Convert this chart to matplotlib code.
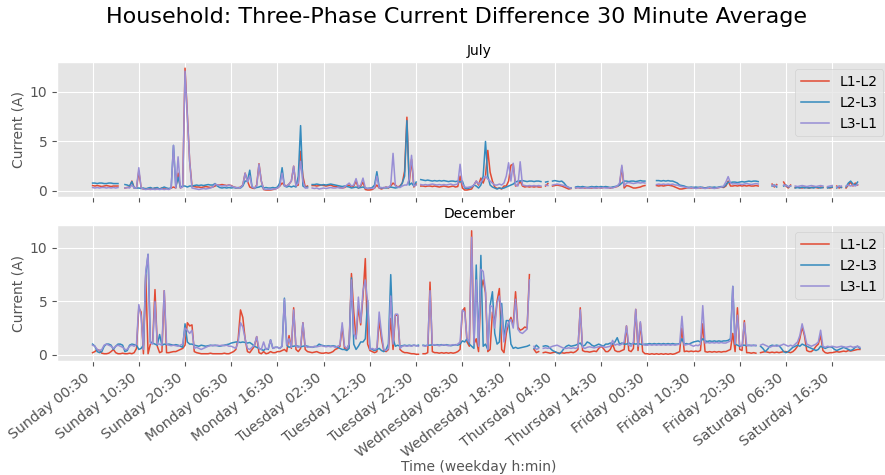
import numpy as np
import matplotlib
matplotlib.use("Agg")
from matplotlib import pyplot as plt

N = np.nan

# half-hour slots, Sunday 00:30 = 0
series_names = ['L1-L2', 'L2-L3', 'L3-L1']
xtick_labels = ['Sunday 00:30', 'Sunday 10:30', 'Sunday 20:30', 'Monday 06:30',
                'Monday 16:30', 'Tuesday 02:30', 'Tuesday 12:30', 'Tuesday 22:30',
                'Wednesday 08:30', 'Wednesday 18:30', 'Thursday 04:30',
                'Thursday 14:30', 'Friday 00:30', 'Friday 10:30', 'Friday 20:30',
                'Saturday 06:30', 'Saturday 16:30']

july_l1_l2 = [
    0.55, 0.5, 0.55, 0.5, 0.45, 0.5, 0.55, 0.5, 0.45, 0.5, 0.5, 0.5, N, N, 0.3, 0.35, 0.4, 1.0, 0.3, 0.3,
    2.0, 0.3, 0.2, 0.25, 0.2, 0.3, 0.2, 0.3, 0.25, 0.2, 0.3, 0.2, 0.25, 0.2, 0.3, 0.4, 0.3, 1.8, 0.3, 0.5,
    12.4, 7.8, 3.0, 0.5, 0.45, 0.4, 0.4, 0.35, 0.4, 0.45, 0.4, 0.35, 0.4, 0.5, 0.6, 0.6, 0.65, 0.6, 0.55, 0.6,
    0.55, 0.4, 0.35, 0.3, 0.4, 0.6, 1.8, 1.0, 0.4, 0.3, 0.25, 0.6, 2.75, 1.0, 0.15, 0.1, 0.1, 0.1, 0.15, 0.2,
    0.3, 0.5, 0.8, 0.6, 0.5, 0.7, 1.0, 2.5, 0.5, 0.6, 4.0, 1.5, 0.4, 0.5, N, 0.55, 0.55, 0.5, 0.55, 0.6,
    0.55, 0.5, 0.55, 0.6, 0.5, 0.45, 0.4, 0.35, 0.3, 0.35, 0.5, 0.6, 0.4, 0.5, 1.0, 0.3, 0.5, 0.9, 0.15, 0.1,
    0.1, 0.15, 0.3, 0.6, 0.3, 0.2, 0.3, 0.4, 0.3, 0.5, 0.8, 0.6, 0.4, 0.5, 0.8, 2.0, 7.45, 0.8, 3.2, 0.4,
    0.7, N, 0.5, 0.5, 0.45, 0.5, 0.5, 0.45, 0.5, 0.45, 0.4, 0.45, 0.5, 0.45, 0.4, 0.45, 0.5, 0.4, 0.45, 1.5,
    0.3, 0.1, 0.1, 0.15, 0.2, 0.6, 1.0, 0.6, 1.3, 0.8, 1.5, 4.1, 1.9, 1.0, 0.4, 0.25, 0.3, 0.2, 0.5, 0.5,
    1.0, 2.6, 2.7, 0.5, 0.6, 1.0, 0.5, 0.4, 0.45, 0.4, 0.45, 0.4, 0.45, 0.4, 0.4, N, 0.5, 0.75, N, 0.5,
    0.55, 0.6, 0.55, 0.5, 0.4, 0.3, 0.2, 0.25, N, 0.3, 0.35, 0.3, 0.35, 0.3, 0.35, 0.3, 0.3, 0.35, 0.3, 0.35,
    0.3, 0.35, 0.4, 0.35, 0.3, 0.35, 0.4, 0.45, 0.6, 2.4, 0.3, 0.55, 0.5, 0.4, 0.3, 0.3, 0.35, 0.4, 0.5, 0.55,
    N, N, N, N, 0.55, 0.5, 0.55, 0.5, 0.55, 0.6, 0.55, 0.5, 0.4, 0.3, 0.2, 0.2, 0.25, 0.3, 0.35, 0.3,
    0.35, 0.3, 0.35, 0.3, 0.35, 0.3, 0.35, 0.3, 0.35, 0.3, 0.3, 0.35, 0.4, 0.35, 0.5, 1.0, 0.5, 0.5, 0.55, 0.5,
    0.55, 0.5, 0.55, 0.5, 0.55, 0.5, 0.5, 0.55, 0.5, N, N, N, N, N, 0.7, 0.4, 0.65, N, N, 0.9,
    0.5, 0.3, 0.6, N, 0.35, 0.4, 0.35, 0.3, 0.4, 0.35, 0.3, 0.35, 0.4, 0.35, 0.3, 0.4, 0.35, N, 0.4, 0.3,
    0.35, N, 0.5, 0.3, 0.4, N, 0.3, 0.6, 0.9, 0.5, 0.8, 0.6, N,
]
july_l2_l3 = [
    0.8, 0.8, 0.75, 0.8, 0.8, 0.75, 0.75, 0.8, 0.8, 0.75, 0.75, 0.75, N, N, 0.65, 0.6, 0.5, 0.95, 0.3, 0.3,
    0.3, 0.25, 0.3, 0.2, 0.3, 0.35, 0.25, 0.3, 0.35, 0.2, 0.3, 0.4, 0.3, 0.25, 0.3, 4.6, 0.4, 1.4, 0.4, 0.5,
    0.5, 0.4, 0.5, 0.5, 0.55, 0.6, 0.55, 0.6, 0.55, 0.6, 0.65, 0.6, 0.6, 0.75, 0.5, 0.35, 0.3, 0.35, 0.3, 0.35,
    0.3, 0.35, 0.3, 0.35, 0.3, 0.5, 1.0, 1.0, 2.1, 0.4, 0.3, 0.35, 0.4, 0.5, 0.3, 0.35, 0.3, 0.3, 0.35, 0.3,
    0.4, 0.8, 2.35, 0.5, 0.4, 0.5, 0.4, 0.5, 0.4, 1.5, 6.6, 0.5, 0.35, 0.4, N, 0.65, 0.65, 0.7, 0.65, 0.6,
    0.65, 0.6, 0.65, 0.7, 0.65, 0.6, 0.55, 0.5, 0.45, 0.5, 0.45, 0.4, 0.3, 0.35, 0.4, 0.3, 0.35, 0.4, 0.3, 0.25,
    0.3, 0.35, 0.6, 1.95, 0.4, 0.3, 0.35, 0.3, 0.35, 0.4, 0.35, 0.3, 0.35, 0.4, 0.8, 1.5, 7.1, 0.6, 0.8, 0.5,
    0.9, N, 1.15, 1.1, 1.05, 1.1, 1.05, 1.0, 1.05, 1.0, 1.05, 1.0, 1.05, 1.0, 0.95, 1.0, 1.0, 0.95, 1.0, 0.9,
    1.0, 0.3, 0.25, 0.3, 0.4, 0.6, 0.5, 0.3, 0.6, 1.5, 5.0, 1.5, 0.6, 0.4, 0.3, 0.2, 0.3, 0.25, 0.3, 0.4,
    0.5, 0.6, 0.7, 0.9, 1.0, 1.0, 1.05, 1.0, 0.95, 1.0, 1.0, 0.95, 1.0, 1.0, 0.95, N, 0.9, 0.95, N, 1.0,
    1.05, 1.0, 0.95, 1.0, 0.8, 0.5, 0.35, 0.3, N, 0.4, 0.45, 0.4, 0.45, 0.4, 0.35, 0.4, 0.45, 0.4, 0.45, 0.4,
    0.45, 0.4, 0.45, 0.4, 0.35, 0.4, 0.45, 0.5, 0.6, 0.8, 1.0, 1.0, 0.95, 1.0, 1.0, 0.95, 1.0, 1.05, 1.0, 1.0,
    N, N, N, N, 1.05, 1.05, 1.0, 1.05, 1.0, 1.05, 1.0, 1.0, 0.9, 0.8, 0.6, 0.55, 0.5, 0.4, 0.35, 0.4,
    0.35, 0.4, 0.35, 0.4, 0.35, 0.3, 0.35, 0.4, 0.35, 0.4, 0.35, 0.4, 0.45, 0.4, 0.6, 0.9, 0.85, 0.9, 0.9, 0.85,
    0.9, 0.95, 0.9, 0.95, 1.0, 0.95, 1.0, 1.0, 0.95, N, N, N, N, N, 0.5, 0.6, 0.4, N, N, 0.5,
    0.6, 0.4, 0.5, N, 0.3, 0.35, 0.3, 0.4, 0.3, 0.35, 0.3, 0.35, 0.3, 0.4, 0.35, 0.3, 0.35, N, 0.3, 0.35,
    0.4, N, 0.3, 0.5, 0.35, N, 0.4, 0.8, 1.0, 0.7, 0.6, 0.9, N,
]
july_l3_l1 = [
    0.35, 0.3, 0.35, 0.3, 0.35, 0.35, 0.3, 0.35, 0.3, 0.35, 0.3, 0.35, N, N, 0.3, 0.35, 0.3, 0.6, 0.3, 0.3,
    2.35, 0.3, 0.2, 0.15, 0.2, 0.15, 0.2, 0.15, 0.2, 0.15, 0.2, 0.15, 0.2, 0.15, 0.3, 4.6, 0.3, 3.45, 0.3, 0.4,
    12.1, 7.5, 3.0, 0.3, 0.25, 0.2, 0.15, 0.2, 0.25, 0.2, 0.25, 0.3, 0.4, 0.7, 0.6, 0.55, 0.5, 0.55, 0.5, 0.6,
    0.5, 0.4, 0.35, 0.3, 0.35, 0.6, 1.8, 0.9, 1.5, 0.4, 0.3, 0.5, 2.7, 1.0, 0.2, 0.15, 0.2, 0.15, 0.2, 0.2,
    0.3, 0.5, 1.8, 0.5, 0.5, 0.7, 1.0, 2.5, 0.5, 0.8, 3.0, 1.0, 0.3, 0.3, N, 0.3, 0.25, 0.3, 0.2, 0.25,
    0.3, 0.25, 0.3, 0.35, 0.3, 0.3, 0.35, 0.3, 0.3, 0.4, 0.6, 0.8, 0.5, 0.6, 1.25, 0.4, 0.6, 1.3, 0.3, 0.25,
    0.3, 0.25, 0.3, 1.5, 0.3, 0.35, 0.3, 0.4, 0.35, 0.6, 3.8, 0.5, 0.4, 0.35, 0.5, 0.6, 0.6, 1.2, 3.6, 0.5,
    0.6, N, 0.65, 0.6, 0.65, 0.6, 0.65, 0.7, 0.65, 0.6, 0.65, 0.6, 0.65, 0.6, 0.65, 0.7, 0.6, 0.65, 0.7, 2.7,
    0.7, 0.4, 0.35, 0.4, 0.45, 0.6, 1.0, 0.7, 0.9, 1.2, 1.5, 1.2, 1.0, 0.8, 0.6, 0.6, 0.7, 0.6, 0.8, 1.5,
    2.85, 1.0, 2.8, 0.6, 0.5, 2.95, 0.6, 0.55, 0.5, 0.55, 0.5, 0.55, 0.5, 0.55, 0.5, N, 0.6, 0.55, N, 0.6,
    0.65, 0.7, 0.65, 0.6, 0.55, 0.45, 0.35, 0.3, N, 0.3, 0.35, 0.3, 0.3, 0.35, 0.3, 0.3, 0.35, 0.3, 0.3, 0.35,
    0.3, 0.35, 0.3, 0.3, 0.35, 0.3, 0.4, 0.5, 0.8, 2.6, 0.5, 0.8, 0.85, 0.8, 0.75, 0.8, 0.85, 0.8, 0.85, 0.8,
    N, N, N, N, 0.65, 0.7, 0.65, 0.7, 0.65, 0.7, 0.65, 0.7, 0.6, 0.6, 0.5, 0.45, 0.4, 0.35, 0.3, 0.35,
    0.3, 0.25, 0.3, 0.35, 0.3, 0.25, 0.3, 0.35, 0.3, 0.25, 0.3, 0.35, 0.4, 0.5, 0.9, 1.45, 0.8, 0.7, 0.75, 0.7,
    0.7, 0.65, 0.7, 0.75, 0.7, 0.65, 0.7, 0.75, 0.7, N, N, N, N, N, 0.6, 0.5, 0.55, N, N, 0.6,
    0.55, 0.45, 0.5, N, 0.5, 0.45, 0.5, 0.55, 0.5, 0.45, 0.5, 0.55, 0.5, 0.45, 0.5, 0.55, 0.5, N, 0.45, 0.5,
    0.55, N, 0.4, 0.45, 0.5, N, 0.5, 0.6, 0.5, 0.6, 0.5, 0.65, N,
]

dec_l1_l2 = [
    0.2, 0.3, 0.5, 0.4, 0.15, 0.1, 0.1, 0.15, 0.3, 0.5, 0.2, 0.1, 0.1, 0.15, 0.1, 0.1, 0.15, 0.1, 0.2, 0.6,
    4.4, 4.0, 0.1, 7.5, 0.1, 1.0, 1.2, 6.1, 0.8, 0.2, 0.3, 6.0, 0.2, 0.2, 0.25, 0.3, 0.3, 0.4, 0.5, 0.6,
    0.9, 3.0, 2.7, 2.8, 0.3, 0.2, 0.15, 0.1, 0.1, 0.1, 0.1, 0.15, 0.1, 0.1, 0.1, 0.1, 0.1, 0.15, 0.1, 0.1,
    0.2, 0.3, 0.5, 1.5, 4.2, 3.5, 1.5, 0.3, 0.2, 0.5, 0.8, 1.7, 0.2, 0.1, 0.3, 0.1, 0.15, 0.3, 0.2, 0.2,
    0.3, 0.3, 0.4, 0.5, 0.3, 1.8, 0.6, 4.4, 0.5, 0.3, 0.6, 3.0, 0.5, 0.3, 0.25, 0.2, 0.25, 0.3, 0.2, 0.15,
    0.15, 0.2, 0.15, 0.2, 0.3, 0.5, 0.6, 0.8, 2.6, 0.6, 0.5, 1.0, 7.6, 4.0, 1.5, 4.5, 2.8, 5.5, 9.0, 1.0,
    0.4, 0.3, 0.2, 0.3, 3.3, 1.5, 0.4, 0.3, 0.5, 3.4, 0.5, 3.7, 3.7, 0.5, 0.3, 0.2, 0.2, 0.15, 0.1, 0.1,
    0.05, 0.05, N, 0.1, 0.1, 0.2, 6.8, 0.3, 0.2, 0.2, 0.15, 0.2, 0.15, 0.2, 0.15, 0.2, 0.15, 0.2, 0.3, 0.5,
    4.1, 4.4, 1.2, 0.8, 11.6, 1.0, 1.5, 0.3, 6.0, 7.0, 5.8, 0.3, 0.5, 4.0, 3.0, 5.0, 6.2, 0.5, 0.2, 2.0,
    3.0, 3.5, 2.8, 5.9, 2.6, 2.3, 2.4, 2.6, 2.5, 7.5, N, 0.5, 0.2, 0.3, N, 0.2, 0.25, 0.2, 0.15, 0.2,
    0.25, 0.2, 0.15, 0.2, 0.15, 0.2, 0.2, 0.25, 0.2, 0.3, 0.5, 4.4, 0.4, 0.3, 0.3, 0.25, 0.3, 0.35, 0.3, 0.6,
    0.8, 0.6, 0.3, 0.3, 0.5, 1.0, 0.4, 0.3, 0.3, 0.4, 0.5, 2.7, 0.4, 0.3, 0.6, 4.25, 0.4, 3.0, 0.3, 0.1,
    0.1, 0.05, 0.1, 0.05, 0.1, 0.05, 0.1, 0.05, 0.1, 0.05, 0.1, 0.05, 0.1, 0.2, 0.3, 2.5, 0.3, 0.35, 0.3, 0.35,
    0.3, 0.35, 0.3, 0.4, 2.9, 0.3, 0.25, 0.3, 0.25, 0.3, 0.25, 0.3, 0.25, 0.3, 0.3, 0.4, 0.5, 2.0, 0.3, 4.4,
    0.5, 0.4, 3.2, 0.2, 0.2, 0.15, 0.2, 0.15, N, 0.2, 0.25, 0.3, 0.25, 0.2, 0.25, 0.2, 0.25, 0.2, 0.25, 0.3,
    0.3, 0.25, 0.2, 0.3, 0.5, 0.8, 1.5, 2.6, 1.8, 0.4, 0.3, 0.3, 0.5, 0.8, 1.0, 1.8, 0.4, 0.2, 0.15, 0.2,
    0.2, 0.25, 0.3, 0.25, 0.3, 0.35, 0.3, 0.4, 0.35, 0.4, 0.45, 0.5, 0.5,
]
dec_l2_l3 = [
    1.0, 0.8, 0.3, 0.2, 0.3, 0.8, 1.0, 1.0, 0.9, 0.5, 0.8, 1.0, 1.0, 0.9, 0.3, 0.4, 0.9, 1.0, 0.95, 0.9,
    0.5, 0.6, 0.9, 7.5, 9.4, 1.2, 1.1, 1.0, 0.9, 1.9, 0.9, 1.0, 0.95, 1.0, 0.95, 0.9, 0.95, 0.9, 0.8, 0.7,
    2.9, 1.2, 1.0, 1.0, 0.9, 0.85, 0.8, 0.9, 0.85, 0.8, 0.85, 0.9, 0.85, 0.9, 0.85, 0.8, 0.85, 0.9, 0.95, 1.0,
    1.1, 1.15, 1.2, 1.2, 1.15, 1.2, 1.15, 1.1, 1.15, 1.0, 0.8, 0.7, 0.6, 0.5, 0.4, 0.6, 0.5, 1.4, 0.6, 0.7,
    0.7, 0.6, 0.8, 5.3, 0.9, 0.7, 0.8, 0.8, 0.85, 0.8, 0.75, 0.8, 0.85, 0.8, 0.75, 0.7, 0.75, 0.8, 1.0, 0.9,
    0.85, 0.8, 0.85, 0.8, 0.85, 0.8, 0.7, 0.6, 0.5, 0.5, 0.4, 0.6, 7.2, 1.0, 0.5, 0.8, 1.2, 1.2, 1.5, 5.1,
    0.6, 0.5, 0.4, 0.5, 0.6, 0.4, 0.3, 0.5, 1.0, 7.5, 1.5, 0.8, 0.9, 0.8, 0.85, 0.9, 0.85, 0.9, 0.85, 0.9,
    0.85, 0.9, N, 0.9, 0.85, 0.9, 0.9, 0.95, 0.9, 0.95, 0.9, 0.95, 0.9, 0.95, 0.9, 0.85, 0.9, 0.95, 0.9, 1.0,
    1.3, 1.2, 1.5, 1.0, 0.8, 0.6, 8.4, 0.9, 9.3, 0.8, 1.0, 0.5, 4.6, 5.9, 2.0, 1.0, 1.2, 4.8, 1.5, 3.2,
    3.2, 1.0, 0.6, 0.7, 0.6, 0.65, 0.7, 0.75, 0.8, 0.9, N, 0.6, 0.9, 0.7, N, 0.8, 0.85, 0.8, 0.6, 0.4,
    0.3, 0.2, 0.1, 0.3, 0.6, 0.8, 0.9, 0.8, 0.85, 0.9, 1.0, 1.1, 0.8, 0.9, 1.2, 1.1, 0.9, 0.8, 0.9, 1.0,
    0.9, 0.8, 1.0, 1.0, 1.1, 1.0, 1.2, 1.6, 1.0, 1.1, 1.0, 1.0, 1.1, 1.0, 1.05, 1.0, 1.05, 1.0, 0.95, 1.0,
    1.0, 1.05, 1.0, 1.05, 1.0, 1.05, 1.0, 1.05, 1.0, 1.05, 1.0, 1.05, 1.0, 1.0, 1.05, 1.5, 1.0, 1.05, 1.0, 1.1,
    1.2, 1.25, 1.3, 1.2, 1.5, 1.3, 1.25, 1.3, 1.25, 1.3, 1.25, 1.3, 1.25, 1.3, 1.3, 1.35, 1.5, 6.4, 1.0, 0.9,
    0.8, 0.9, 0.9, 0.85, 0.9, 0.85, 0.9, 0.85, N, 0.8, 0.6, 0.3, 0.5, 0.8, 0.9, 0.85, 0.9, 0.85, 0.6, 0.3,
    0.2, 0.3, 0.5, 0.7, 0.8, 0.9, 0.8, 1.0, 0.9, 0.8, 0.7, 0.6, 0.5, 0.4, 0.5, 0.8, 0.7, 0.6, 0.7, 0.75,
    0.7, 0.5, 0.4, 0.5, 0.6, 0.7, 0.6, 0.5, 0.4, 0.5, 0.7, 0.8, 0.6,
]
dec_l3_l1 = [
    0.9, 0.8, 0.5, 0.4, 0.5, 0.9, 1.0, 0.9, 0.8, 0.6, 0.8, 0.9, 0.8, 0.7, 0.5, 0.5, 0.8, 0.9, 0.8, 1.0,
    4.7, 3.6, 0.5, 7.8, 9.4, 1.1, 1.0, 5.0, 1.0, 1.0, 0.9, 6.0, 1.0, 0.9, 0.85, 0.9, 0.85, 0.8, 0.9, 1.0,
    2.5, 2.3, 2.0, 2.3, 0.6, 0.7, 0.6, 0.5, 0.6, 0.7, 0.8, 0.85, 0.9, 0.85, 0.9, 0.85, 0.9, 0.85, 0.9, 0.8,
    0.8, 0.7, 0.6, 1.2, 3.0, 2.6, 1.5, 0.6, 0.5, 0.7, 0.9, 1.7, 0.6, 0.5, 1.2, 0.5, 0.6, 1.4, 0.6, 0.7,
    0.7, 0.6, 0.8, 5.2, 0.9, 1.5, 0.7, 4.2, 0.8, 0.7, 0.8, 3.0, 0.8, 0.7, 0.75, 0.7, 0.8, 0.75, 0.8, 0.85,
    0.8, 0.75, 0.8, 0.75, 0.8, 0.7, 0.8, 0.9, 3.0, 0.8, 0.6, 1.0, 7.0, 2.0, 1.5, 5.4, 3.0, 6.0, 7.0, 5.0,
    0.5, 0.6, 0.5, 0.6, 4.0, 2.0, 0.5, 0.4, 0.6, 5.5, 1.0, 3.8, 3.8, 0.6, 0.8, 0.85, 0.8, 0.85, 0.8, 0.9,
    0.85, 0.8, N, 0.85, 0.8, 0.9, 6.0, 0.9, 0.95, 0.9, 0.85, 0.9, 0.95, 0.9, 0.85, 0.9, 0.95, 0.9, 1.0, 1.2,
    4.2, 4.0, 1.5, 1.2, 11.0, 1.0, 7.0, 0.8, 8.0, 7.8, 6.0, 0.5, 4.6, 4.5, 2.5, 4.8, 5.5, 4.0, 1.2, 2.5,
    3.0, 3.3, 2.5, 5.2, 2.4, 2.1, 2.0, 2.2, 2.4, 7.0, N, 0.8, 0.5, 0.6, N, 0.6, 0.65, 0.6, 0.7, 0.8,
    0.85, 0.9, 0.8, 0.7, 0.6, 0.6, 0.65, 0.6, 0.65, 0.6, 0.7, 4.2, 0.7, 0.6, 0.7, 0.75, 0.7, 0.65, 0.7, 0.75,
    0.8, 0.75, 0.7, 0.75, 0.8, 1.35, 0.9, 1.0, 0.9, 1.0, 1.2, 2.7, 0.9, 0.8, 1.2, 4.25, 0.8, 3.1, 1.0, 0.9,
    0.9, 0.95, 0.9, 0.95, 0.9, 0.95, 0.9, 0.95, 0.9, 0.95, 0.9, 0.95, 0.9, 0.95, 1.0, 3.6, 0.9, 0.95, 1.0, 0.9,
    0.8, 0.9, 0.85, 1.0, 4.6, 1.1, 1.15, 1.1, 1.15, 1.1, 1.15, 1.1, 1.15, 1.1, 1.1, 1.2, 1.3, 6.4, 1.0, 3.7,
    0.9, 0.8, 3.0, 0.9, 0.85, 0.9, 0.85, 0.9, N, 0.9, 1.0, 0.9, 0.8, 0.7, 0.8, 0.85, 0.8, 0.85, 0.9, 1.0,
    0.9, 0.8, 0.9, 0.8, 1.0, 1.2, 1.8, 2.9, 2.0, 1.0, 0.9, 0.8, 0.9, 1.0, 1.2, 2.3, 0.8, 0.7, 0.8, 0.75,
    0.8, 0.75, 0.7, 0.75, 0.8, 0.75, 0.7, 0.75, 0.8, 0.7, 0.75, 0.8, 0.7,
]

july = [july_l1_l2, july_l2_l3, july_l3_l1]
december = [dec_l1_l2, dec_l2_l3, dec_l3_l1]

plt.style.use('ggplot')
fig = plt.figure(figsize=(8.85, 4.75), dpi=100)
ax1 = fig.add_axes([0.0644, 0.585, 0.954, 0.284])
ax2 = fig.add_axes([0.0644, 0.240, 0.954, 0.286], sharex=ax1)

for ax, data, title, ylim in [(ax1, july, 'July', (-0.62, 13.0)),
                              (ax2, december, 'December', (-0.58, 12.13))]:
    for name, values in zip(series_names, data):
        y = np.array(values, dtype=float)
        ax.plot(np.arange(len(y)), y, label=name, linewidth=1.1)
    ax.set_title(title, fontsize=10, pad=5)
    ax.set_ylabel('Current (A)', fontsize=10, labelpad=3)
    ax.set_ylim(*ylim)
    ax.tick_params(labelsize=10)
    ax.legend(loc='upper right', bbox_to_anchor=(0.987, 1.0), fontsize=10)

ax1.set_xlim(-15.4, 349.9)
ax2.set_xticks(np.arange(0, 20 * len(xtick_labels), 20))
ax2.set_xticklabels(xtick_labels, rotation=38, ha='right', fontsize=10.2)
plt.setp(ax1.get_xticklabels(), visible=False)
ax2.set_xlabel('Time (weekday h:min)', fontsize=10)
ax2.xaxis.set_label_coords(0.5, -0.73)

fig.suptitle('Household: Three-Phase Current Difference 30 Minute Average',
             fontsize=16, x=0.516, y=0.985)

fig.savefig('out.png', dpi=100)
